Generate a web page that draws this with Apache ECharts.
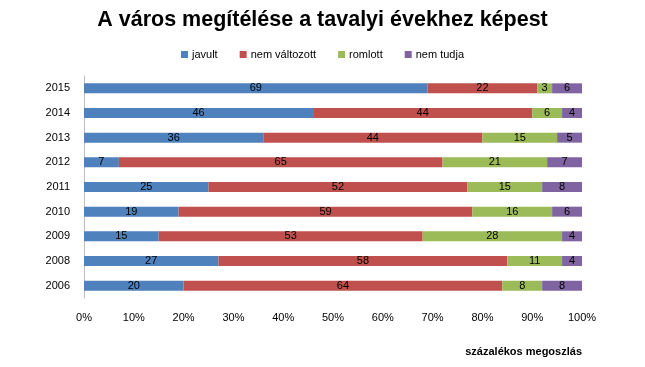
<!DOCTYPE html>
<html><head><meta charset="utf-8">
<script src="https://cdn.jsdelivr.net/npm/echarts@6/dist/echarts.min.js"></script>
<style>html,body{margin:0;padding:0;background:#fff}#c{width:645px;height:367px}</style>
</head><body><div id="c"></div>
<script>
const years = ['2015','2014','2013','2012','2011','2010','2009','2008','2006'];
const javult = [69,46,36,7,25,19,15,27,20];
const nemValtozott = [22,44,44,65,52,59,53,58,64];
const romlott = [3,6,15,21,15,16,28,11,8];
const nemTudja = [6,4,5,7,8,6,4,4,8];
const seriesNames = ['javult','nem változott','romlott','nem tudja'];
const colors = ['#4F81BD','#C0504D','#9BBB59','#8064A2'];
const xTicks = [0,10,20,30,40,50,60,70,80,90,100];

const FONT = '"Liberation Sans", Arial, sans-serif';
const chart = echarts.init(document.getElementById('c'), null, {renderer:'canvas'});
const mk = (name, data, i) => ({
  name, type:'bar', stack:'all', data, barWidth:10,
  itemStyle:{color:colors[i]},
  label:{show:true, position:'inside', color:'#000', fontSize:11, fontFamily:FONT},
  emphasis:{disabled:true}
});
chart.setOption({
  animation:false,
  title:{text:'A város megítélése a tavalyi évekhez képest', left:'center', top:4,
    textStyle:{fontSize:21.5, fontWeight:'bold', color:'#000', fontFamily:FONT}},
  legend:{top:44, left:'center', itemWidth:7, itemHeight:7, itemGap:22, icon:'rect',
    textStyle:{fontSize:11, color:'#000', fontFamily:FONT, padding:[0,0,0,-1]}, data:seriesNames},
  grid:{left:84, right:63, top:76, bottom:69, containLabel:false},
  xAxis:{type:'value', min:0, max:100, interval:10,
    axisLine:{show:false}, axisTick:{show:false}, splitLine:{show:false},
    axisLabel:{formatter:v=>v+'%', fontSize:11, color:'#000', fontFamily:FONT, margin:14}},
  yAxis:{type:'category', data:years, inverse:true,
    axisLine:{show:true, lineStyle:{color:'#BFBFBF'}}, axisTick:{show:false},
    axisLabel:{fontSize:11, color:'#000', fontFamily:FONT, margin:14}},
  graphic:[{type:'text', right:63, top:346, style:{text:'százalékos megoszlás', font:'bold 11px '+FONT, fill:'#000'}}],
  series:[mk(seriesNames[0],javult,0),mk(seriesNames[1],nemValtozott,1),mk(seriesNames[2],romlott,2),mk(seriesNames[3],nemTudja,3)]
});
</script></body></html>
